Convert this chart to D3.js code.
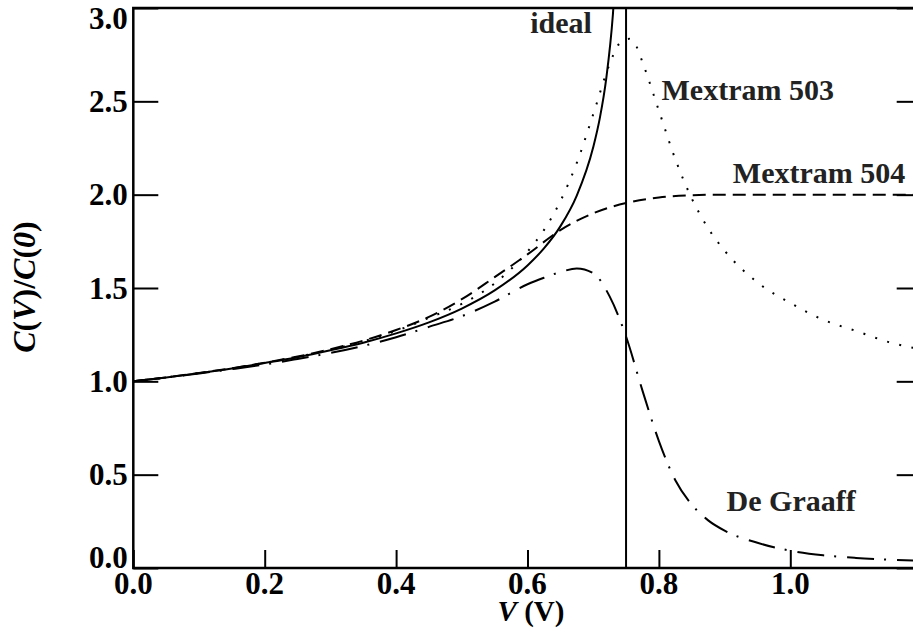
<!DOCTYPE html>
<html>
<head>
<meta charset="utf-8">
<script src="https://cdnjs.cloudflare.com/ajax/libs/d3/7.8.5/d3.min.js"></script>
<style>
  body { margin: 0; background: #fff; }
  text { font-family: "Liberation Serif", "Times New Roman", serif; font-weight: bold; fill: #000; }
</style>
</head>
<body>
<div id="chart"></div>
<script>
////////////////////////////////////////////////////////////
//////////////////////// Data //////////////////////////////
////////////////////////////////////////////////////////////

var VdC = 0.75; // diffusion voltage, vertical line

var xTicks = [0.0, 0.2, 0.4, 0.6, 0.8, 1.0];
var yTicks = [0.0, 0.5, 1.0, 1.5, 2.0, 2.5, 3.0];

// ideal (solid)
var idealV = [0, 0.05, 0.1, 0.15, 0.2, 0.25, 0.3, 0.35, 0.4, 0.45, 0.5, 0.55, 0.6, 0.625, 0.65, 0.675, 0.7, 0.71, 0.72, 0.73, 0.735];
var idealC = [1.0, 1.021, 1.044, 1.069, 1.098, 1.129, 1.166, 1.207, 1.257, 1.316, 1.39, 1.487, 1.621, 1.712, 1.83, 1.995, 2.254, 2.409, 2.626, 2.966, 3.234];

// Mextram 503 (dotted)
var m503V = [0, 0.05, 0.1, 0.15, 0.2, 0.25, 0.3, 0.35, 0.4, 0.45, 0.5, 0.55, 0.6, 0.625, 0.65, 0.675, 0.7, 0.725, 0.74, 0.755, 0.765, 0.775, 0.8, 0.825, 0.85, 0.875, 0.9, 0.95, 1.0, 1.05, 1.1, 1.15, 1.2];
var m503C = [1.0, 1.021, 1.044, 1.069, 1.099, 1.131, 1.17, 1.214, 1.27, 1.34, 1.415, 1.525, 1.695, 1.81, 1.965, 2.17, 2.43, 2.70, 2.81, 2.835, 2.80, 2.71, 2.45, 2.19, 1.98, 1.82, 1.70, 1.53, 1.42, 1.33, 1.27, 1.21, 1.17];

// Mextram 504 (dashed)
var m504V = [0, 0.05, 0.1, 0.15, 0.2, 0.25, 0.3, 0.35, 0.4, 0.45, 0.5, 0.55, 0.6, 0.65, 0.7, 0.75, 0.8, 0.85, 0.9, 1.0, 1.1, 1.2];
var m504C = [1.0, 1.021, 1.045, 1.07, 1.10, 1.133, 1.172, 1.218, 1.275, 1.345, 1.44, 1.558, 1.68, 1.81, 1.90, 1.955, 1.985, 1.997, 2.0, 2.0, 2.0, 2.0];

// De Graaff (dash-dot)
var dgV = [0, 0.05, 0.1, 0.15, 0.2, 0.25, 0.3, 0.35, 0.4, 0.45, 0.5, 0.55, 0.6, 0.625, 0.65, 0.675, 0.7, 0.725, 0.75, 0.775, 0.8, 0.825, 0.85, 0.875, 0.9, 0.95, 1.0, 1.05, 1.1, 1.15, 1.2];
var dgC = [1.0, 1.02, 1.042, 1.065, 1.09, 1.12, 1.152, 1.19, 1.236, 1.292, 1.349, 1.427, 1.52, 1.555, 1.585, 1.605, 1.58, 1.455, 1.24, 0.95, 0.68, 0.47, 0.34, 0.255, 0.20, 0.135, 0.093, 0.068, 0.054, 0.045, 0.038];

var labels = [
  {text: "ideal",       v: 0.698, c: 2.865, anchor: "end"},
  {text: "Mextram 503", v: 0.804, c: 2.507, anchor: "start"},
  {text: "Mextram 504", v: 1.175, c: 2.06,  anchor: "end"},
  {text: "De Graaff",   v: 0.903, c: 0.307, anchor: "start"}
];

////////////////////////////////////////////////////////////
//////////////////////// Set-Up ////////////////////////////
////////////////////////////////////////////////////////////

var W = 913, H = 636;
var margin = {left: 133.3, top: 8, right: -8.7, bottom: 68},
    width = W - margin.left - margin.right,
    height = H - margin.top - margin.bottom;

var x = d3.scaleLinear().domain([0, 1.2]).range([0, width]);
var y = d3.scaleLinear().domain([0, 3]).range([height, 0]);

var svg = d3.select("#chart").append("svg")
    .attr("width", W)
    .attr("height", H);

var g = svg.append("g")
    .attr("transform", "translate(" + margin.left + "," + margin.top + ")");

g.append("clipPath").attr("id", "plotClip")
  .append("rect").attr("width", width).attr("height", height);

////////////////////////////////////////////////////////////
//////////////////////// Axes //////////////////////////////
////////////////////////////////////////////////////////////

// frame
g.append("rect")
    .attr("width", width).attr("height", height)
    .style("fill", "none").style("stroke", "#000").style("stroke-width", 2.5);

// y ticks, left and right, pointing inward
var yAxisL = d3.axisRight(y).tickValues(yTicks).tickSize(25).tickFormat("");
var yAxisR = d3.axisLeft(y).tickValues(yTicks).tickSize(25).tickFormat("");
g.append("g").attr("class", "axis").call(yAxisL);
g.append("g").attr("class", "axis").attr("transform", "translate(" + width + ",0)").call(yAxisR);

// x ticks on the bottom, pointing inward
var xAxis = d3.axisTop(x).tickValues(xTicks).tickSize(18).tickFormat("");
g.append("g").attr("class", "axis").attr("transform", "translate(0," + height + ")").call(xAxis);

g.selectAll(".axis .domain").remove();
g.selectAll(".axis line").style("stroke", "#000").style("stroke-width", 2);

// tick labels
g.selectAll("text.ylab")
  .data(yTicks).enter().append("text")
    .attr("class", "ylab")
    .attr("x", -5.5)
    .attr("y", function(d) { return Math.min(height, Math.max(21, y(d) + 10.5)); })
    .style("text-anchor", "end")
    .style("font-size", "31px")
    .text(function(d) { return d3.format(".1f")(d); });

g.selectAll("text.xlab")
  .data(xTicks).enter().append("text")
    .attr("class", "xlab")
    .attr("x", function(d) { return x(d); })
    .attr("y", height + 26)
    .style("text-anchor", "middle")
    .style("font-size", "31px")
    .text(function(d) { return d3.format(".1f")(d); });

// axis titles
var xt = svg.append("text")
    .attr("x", 531).attr("y", 621)
    .style("text-anchor", "middle")
    .style("font-size", "29px");
xt.append("tspan").style("font-style", "italic").text("V");
xt.append("tspan").text(" (V)");

var yt = svg.append("text")
    .attr("transform", "translate(35,287) rotate(-90)")
    .style("text-anchor", "middle")
    .style("font-size", "32px");
yt.append("tspan").style("font-style", "italic").text("C");
yt.append("tspan").text("(");
yt.append("tspan").style("font-style", "italic").text("V");
yt.append("tspan").text(")/");
yt.append("tspan").style("font-style", "italic").text("C");
yt.append("tspan").text("(");
yt.append("tspan").style("font-style", "italic").text("0");
yt.append("tspan").text(")");

////////////////////////////////////////////////////////////
//////////////////////// Curves ////////////////////////////
////////////////////////////////////////////////////////////

var line = d3.line()
    .x(function(d) { return x(d[0]); })
    .y(function(d) { return y(d[1]); })
    .curve(d3.curveMonotoneX);

var series = [
  {v: idealV, c: idealC, dash: null},
  {v: m503V,  c: m503C,  dash: "2,10.5"},
  {v: m504V,  c: m504C,  dash: "13,7"},
  {v: dgV,    c: dgC,    dash: "27,10,2,11"}
];

var curves = g.append("g").attr("clip-path", "url(#plotClip)");

curves.selectAll("path.curve")
  .data(series).enter().append("path")
    .attr("class", "curve")
    .attr("d", function(s) { return line(d3.zip(s.v, s.c)); })
    .style("fill", "none")
    .style("stroke", "#000")
    .style("stroke-width", 2)
    .style("stroke-dasharray", function(s) { return s.dash; });

// vertical line at VdC
curves.append("line")
    .attr("x1", x(VdC)).attr("x2", x(VdC))
    .attr("y1", 0).attr("y2", height)
    .style("stroke", "#000").style("stroke-width", 2);

////////////////////////////////////////////////////////////
//////////////////////// Labels ////////////////////////////
////////////////////////////////////////////////////////////

g.selectAll("text.curvelab")
  .data(labels).enter().append("text")
    .attr("class", "curvelab")
    .attr("x", function(d) { return x(d.v); })
    .attr("y", function(d) { return y(d.c); })
    .style("text-anchor", function(d) { return d.anchor; })
    .style("font-size", "30px")
    .style("fill", "#222")
    .text(function(d) { return d.text; });
</script>
</body>
</html>
